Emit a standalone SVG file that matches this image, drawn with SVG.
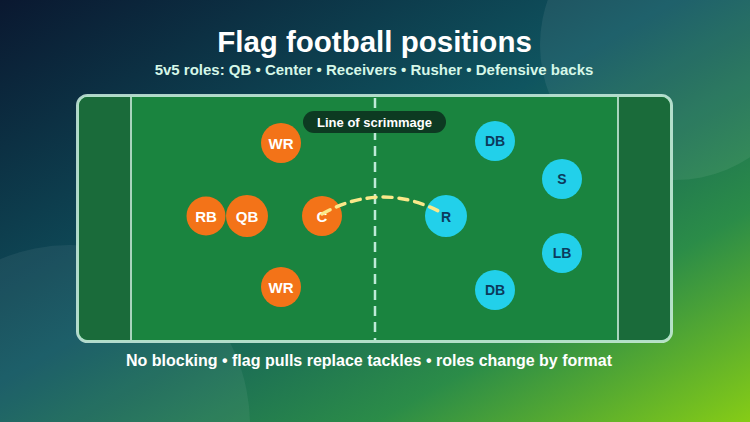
<svg xmlns="http://www.w3.org/2000/svg" width="750" height="422" viewBox="0 0 750 422">
  <defs>
    <linearGradient id="bg" x1="0" y1="0" x2="1" y2="1">
      <stop offset="0" stop-color="#0a1830"/>
      <stop offset="0.45" stop-color="#0f5560"/>
      <stop offset="0.75" stop-color="#2b8c48"/>
      <stop offset="1" stop-color="#86cc16"/>
    </linearGradient>
    <style>
      .t { font-family: "Liberation Sans", Arial, sans-serif; font-weight: bold; text-anchor: middle; }
      .off circle { fill: #f37318; }
      .def circle { fill: #22d0ea; }
      .off text { fill: #ffffff; font-size: 15px; }
      .def text { fill: #0c3a5c; font-size: 14px; }
    </style>
  </defs>
  <rect width="750" height="422" fill="url(#bg)"/>
  <circle cx="675" cy="45" r="135" fill="#ffffff" fill-opacity="0.07"/>
  <circle cx="70" cy="425" r="180" fill="#ffffff" fill-opacity="0.06"/>

  <text class="t" x="374.5" y="52" font-size="29.5" fill="#ffffff">Flag football positions</text>
  <text class="t" x="374" y="75" font-size="15" fill="#d5f7e8">5v5 roles: QB • Center • Receivers • Rusher • Defensive backs</text>

  <g id="field">
    <rect x="77.5" y="95.5" width="594" height="246" rx="10" fill="#1a843f" stroke="#cdeee0" stroke-opacity="0.85" stroke-width="3"/>
    <path d="M79 105 a9 9 0 0 1 9 -8 h43 v243 h-43 a9 9 0 0 1 -9 -9 z" fill="#1a6b3a"/>
    <path d="M670 105 a9 9 0 0 0 -9 -8 h-43 v243 h43 a9 9 0 0 0 9 -9 z" fill="#1a6b3a"/>
    <line x1="131" y1="97" x2="131" y2="340" stroke="#d8f3e8" stroke-width="1.5"/>
    <line x1="618" y1="97" x2="618" y2="340" stroke="#d8f3e8" stroke-width="1.5"/>
    <line x1="375" y1="98" x2="375" y2="340" stroke="#bfead8" stroke-width="2.5" stroke-dasharray="10 6"/>
  </g>

  <g id="scrimmage-label">
    <rect x="303" y="111" width="143" height="22" rx="11" fill="#0d3a22"/>
    <text class="t" x="374.5" y="127" font-size="13" fill="#ffffff">Line of scrimmage</text>
  </g>

  <g id="wr-top" class="off"><circle cx="281" cy="143" r="20"/><text class="t" x="281" y="148.5">WR</text></g>
  <g id="rb" class="off"><circle cx="206" cy="216" r="19.5"/><text class="t" x="206" y="221.5">RB</text></g>
  <g id="qb" class="off"><circle cx="247" cy="216" r="21"/><text class="t" x="247" y="221.5">QB</text></g>
  <g id="c" class="off"><circle cx="322" cy="216" r="20"/><text class="t" x="322" y="221.5">C</text></g>
  <g id="wr-bottom" class="off"><circle cx="281" cy="287" r="20"/><text class="t" x="281" y="292.5">WR</text></g>

  <g id="db-top" class="def"><circle cx="495" cy="141" r="20"/><text class="t" x="495" y="146">DB</text></g>
  <g id="s" class="def"><circle cx="562" cy="179" r="20"/><text class="t" x="562" y="184">S</text></g>
  <g id="r" class="def"><circle cx="446" cy="216" r="21"/><text class="t" x="446" y="221.5" font-size="15">R</text></g>
  <g id="lb" class="def"><circle cx="562" cy="253" r="20"/><text class="t" x="562" y="258">LB</text></g>
  <g id="db-bottom" class="def"><circle cx="495" cy="290" r="20"/><text class="t" x="495" y="295">DB</text></g>

  <g id="connectors">
    <path d="M322 214 Q383 180 444 214" fill="none" stroke="#fbe88a" stroke-width="3.5" stroke-linecap="round" stroke-dasharray="9 7"/>
  </g>

  <text class="t" x="369" y="366" font-size="16" fill="#ffffff">No blocking • flag pulls replace tackles • roles change by format</text>
</svg>
